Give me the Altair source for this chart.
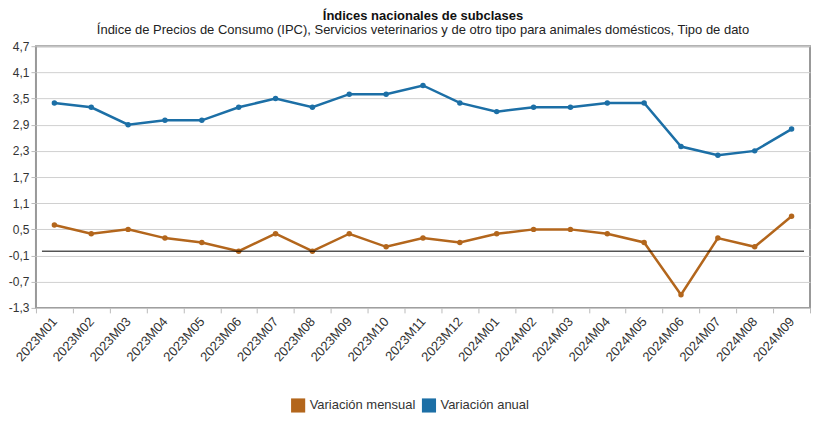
import altair as alt
import pandas as pd

periods = ["2023M01","2023M02","2023M03","2023M04","2023M05","2023M06","2023M07",
           "2023M08","2023M09","2023M10","2023M11","2023M12","2024M01","2024M02",
           "2024M03","2024M04","2024M05","2024M06","2024M07","2024M08","2024M09"]
mensual = [0.6, 0.4, 0.5, 0.3, 0.2, 0.0, 0.4, 0.0, 0.4, 0.1, 0.3, 0.2,
           0.4, 0.5, 0.5, 0.4, 0.2, -1.0, 0.3, 0.1, 0.8]
anual = [3.4, 3.3, 2.9, 3.0, 3.0, 3.3, 3.5, 3.3, 3.6, 3.6, 3.8, 3.4,
         3.2, 3.3, 3.3, 3.4, 3.4, 2.4, 2.2, 2.3, 2.8]
series = ["Variación mensual", "Variación anual"]
colors = ["#b3661c", "#1c6fa6"]
y_ticks = [-1.3, -0.7, -0.1, 0.5, 1.1, 1.7, 2.3, 2.9, 3.5, 4.1, 4.7]

rows = []
for p, m, a in zip(periods, mensual, anual):
    rows.append({"periodo": p, "serie": series[0], "valor": m})
    rows.append({"periodo": p, "serie": series[1], "valor": a})
df = pd.DataFrame(rows)

W, H = 775, 262
FONT = "Liberation Sans"

base = alt.Chart(df).encode(
    x=alt.X("periodo:N", sort=periods, title=None,
            scale=alt.Scale(paddingInner=0, paddingOuter=0),
            axis=alt.Axis(labelAngle=-48, labelFontSize=13, labelColor="#333",
                          tickBand="extent", tickColor="#bbb", tickSize=5,
                          domain=False, grid=False, labelPadding=6,
                          labelOverlap=False)),
    y=alt.Y("valor:Q", title=None,
            scale=alt.Scale(domain=[-1.3, 4.7], nice=False, zero=False),
            axis=alt.Axis(values=y_ticks, tickCount=len(y_ticks),
                          labelFontSize=12, labelColor="#333",
                          labelOverlap=False,
                          labelExpr="replace(replace(format(datum.value, '.1f'), '.', ','), '\u2212', '-')",
                          tickColor="#bbb", tickSize=5, domain=False, labelPadding=2,
                          grid=True, gridColor="#d0d0d0", gridWidth=1)),
    color=alt.Color("serie:N", sort=series,
                    scale=alt.Scale(domain=series, range=colors),
                    legend=alt.Legend(title=None, orient="none", direction="horizontal",
                                      legendX=255, legendY=352,
                                      symbolType="square", symbolSize=200,
                                      symbolStrokeWidth=0, labelFontSize=13,
                                      labelColor="#333", columnPadding=6,
                                      symbolOffset=0)),
)

lines = base.mark_line(strokeWidth=2.5)
points = base.mark_circle(size=30, opacity=1)

zero = alt.Chart(pd.DataFrame({"z": [0.0]})).mark_rule(color="black", strokeWidth=1).encode(
    y="z:Q", x=alt.value(6), x2=alt.value(W - 6))

chart = alt.layer(lines, points, zero).properties(
    width=W, height=H,
    padding={"left": 0, "top": 2, "right": 2, "bottom": 0},
    title=alt.TitleParams(
        text="Índices nacionales de subclases",
        subtitle="Índice de Precios de Consumo (IPC), Servicios veterinarios y de otro tipo para animales domésticos, Tipo de dato",
        anchor="middle", font=FONT, fontSize=13, fontWeight="bold", color="#111",
        subtitleFont=FONT, subtitleFontSize=13, subtitleColor="#222",
        offset=3, subtitlePadding=1),
).configure(font=FONT).configure_view(
    stroke="#999", strokeWidth=2
)

chart.save("out.html", embed_options={"renderer": "svg", "actions": False})
